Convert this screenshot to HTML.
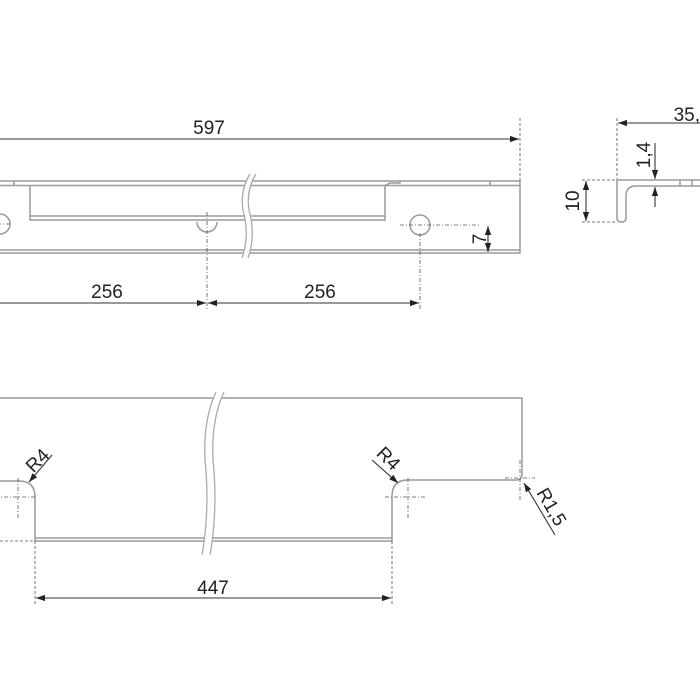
<!DOCTYPE html>
<html><head><style>body{margin:0;background:#fff}svg{display:block}text{font-family:"Liberation Sans",sans-serif;font-size:19px;fill:#222}</style></head><body>
<svg width="700" height="700" viewBox="0 0 700 700" xmlns="http://www.w3.org/2000/svg">
<defs><marker id="a" viewBox="0 0 10 10" refX="10" refY="5" markerWidth="9" markerHeight="9" orient="auto-start-reverse" markerUnits="userSpaceOnUse"><path d="M0,1.5L10,5L0,8.5z" fill="#222"/></marker></defs>
<g fill="none" stroke="#9a9a9a" stroke-width="1.5">
<path d="M0,181H520V253H0M0,185.5H520M0,250H520"/>
<path d="M14,181V185.5M30,185.5V220H385V185.5M30,216H385M385,185.5L390,183H400V181M490,181V185.5"/>
<circle cx="0" cy="224" r="10"/><circle cx="420" cy="225" r="10"/>
<path d="M197,222A10,10 0 0 0 217,222"/>
<path d="M0,398H522V474Q522,480 516,480H408Q392,480 392,496V541H35V497Q35,481 19,481H0M35,538H392"/>
<path d="M617,180H700M617,180V218Q617,222 621,222Q626,222 626,218V196Q626,186 636,186H700M680,180V186M692,180V186"/>
</g>
<g fill="#fff" stroke="#aaa" stroke-width="1.3">
<path d="M250,174Q240,190 243,210Q250,235 242,258L248,258Q256,235 249,210Q246,190 256,174Z" stroke="none"/>
<path d="M216,392Q203,420 205,460Q210,510 202,555L210,555Q218,510 213,460Q211,420 224,392Z" stroke="none"/>
</g>
<g fill="none" stroke="#aaa" stroke-width="1.3">
<path d="M250,174Q240,190 243,210Q250,235 242,258M256,174Q246,190 249,210Q256,235 248,258"/>
<path d="M216,392Q203,420 205,460Q210,510 202,555M224,392Q211,420 213,460Q218,510 210,555"/>
</g>
<g fill="none" stroke="#555" stroke-width="0.8" stroke-dasharray="4,2,1,2">
<path d="M-12,224H12M207,212V310M400,225H480M420,233V310M18,478V518M-5,497H35M408,478V518M385,497H425M520,460V500M505,478H535"/>
</g>
<g fill="none" stroke="#555" stroke-width="0.8" stroke-dasharray="3,2">
<path d="M520,118V181M617,118V180M582,180H617M582,222H617M0,541H35M35,541V605M392,541V605"/>
</g>
<g stroke="#333" stroke-width="1.1" fill="none">
<path d="M0,139H519" marker-end="url(#a)"/>
<path d="M0,303H206" marker-end="url(#a)"/>
<path d="M208,303H419" marker-start="url(#a)" marker-end="url(#a)"/>
<path d="M488,226V252" marker-start="url(#a)" marker-end="url(#a)"/>
<path d="M36,598H391" marker-start="url(#a)" marker-end="url(#a)"/>
<path d="M618,123H700" marker-start="url(#a)"/>
<path d="M586,181V221" marker-start="url(#a)" marker-end="url(#a)"/>
<path d="M655,143V179" marker-end="url(#a)"/>
<path d="M655,207V187" marker-end="url(#a)"/>
<path d="M52,455L29,482" marker-end="url(#a)"/>
<path d="M372,460L398,483" marker-end="url(#a)"/>
<path d="M555,535L524,483" marker-end="url(#a)"/>
</g>
<g>
<text x="209" y="134" text-anchor="middle">597</text>
<text x="107" y="298" text-anchor="middle">256</text>
<text x="320" y="298" text-anchor="middle">256</text>
<text x="213" y="594" text-anchor="middle">447</text>
<text x="700" y="121" text-anchor="end">35,</text>
<text transform="translate(486,239) rotate(-90)" text-anchor="middle">7</text>
<text transform="translate(579,201) rotate(-90)" text-anchor="middle">10</text>
<text transform="translate(650,155) rotate(-90)" text-anchor="middle">1,4</text>
<text transform="translate(42,465) rotate(-45)" text-anchor="middle">R4</text>
<text transform="translate(384,463) rotate(45)" text-anchor="middle">R4</text>
<text transform="translate(546,510) rotate(60)" text-anchor="middle">R1,5</text>
</g>
</svg>
</body></html>
